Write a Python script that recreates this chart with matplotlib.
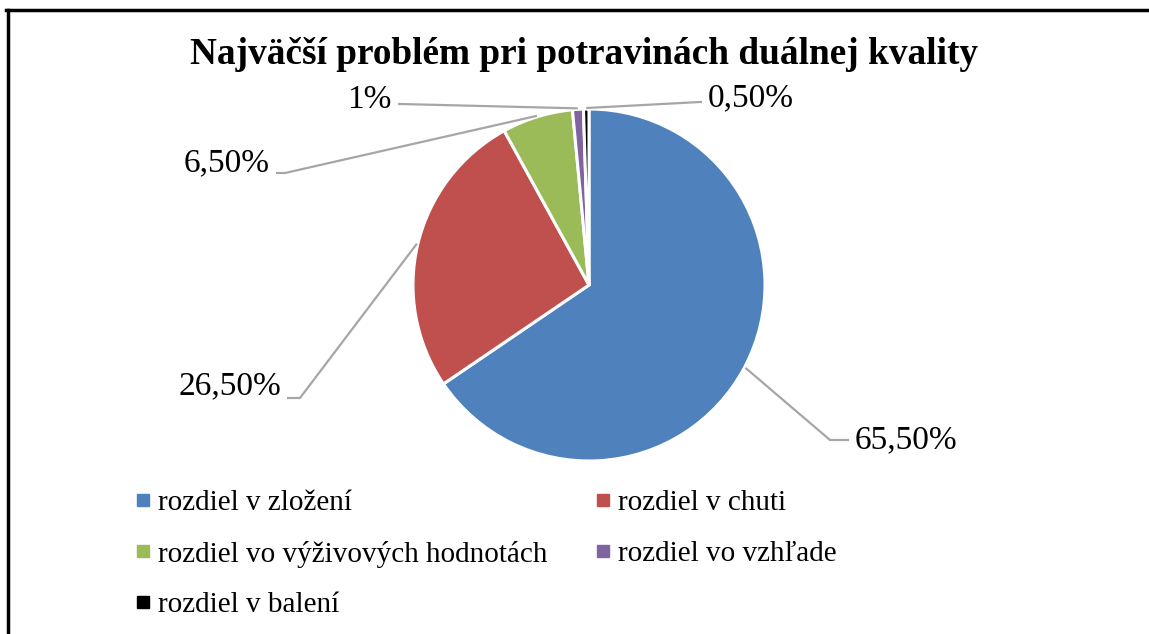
import matplotlib
matplotlib.use("Agg")
import numpy as np
import matplotlib.pyplot as plt
from matplotlib.lines import Line2D

categories = ['rozdiel v zložení', 'rozdiel v chuti', 'rozdiel vo výživových hodnotách',
              'rozdiel vo vzhľade', 'rozdiel v balení']
shares = [65.5, 26.5, 6.5, 1.0, 0.5]
value_labels = ['65,50%', '26,50%', '6,50%', '1%', '0,50%']
colors = ['#4F81BD', '#C0504D', '#9BBB59', '#8064A2', '#000000']

W, H = 1149, 634
# label anchor (pixel coords, y down), elbow point, text alignment
label_pos = [(855, 440), (281, 386), (270, 163), (392, 100), (708, 98)]
elbows = [(830, 440), (300, 398), (285, 173), (400, 104), (700, 102)]
label_ha = ['left', 'right', 'right', 'right', 'left']

plt.rcParams['font.family'] = ['Liberation Serif', 'DejaVu Serif']

fig = plt.figure(figsize=(W / 100, H / 100), dpi=100)
ax = fig.add_axes([0, 0, 1, 1])

cx, cy, r = 589, H - 285, 176
wedges, _ = ax.pie(shares, colors=colors, startangle=90, counterclock=False,
                   center=(cx, cy), radius=r, frame=True,
                   wedgeprops=dict(edgecolor='white', linewidth=2.2))
ax.set_xlim(0, W)
ax.set_ylim(0, H)
ax.axis('off')

for w, txt, (lx, ly), (ex, ey), ha in zip(wedges, value_labels, label_pos, elbows, label_ha):
    mid = np.deg2rad((w.theta1 + w.theta2) / 2)
    px, py = cx + (r + 1) * np.cos(mid), cy + (r + 1) * np.sin(mid)
    ax.plot([px, ex, lx + (-6 if ha == 'left' else 6)], [py, H - ey, H - ey],
            color='#A6A6A6', lw=1.6, solid_capstyle='butt')
    ax.text(lx, H - ly, txt, fontsize=24, ha=ha, va='center', color='black')

fig.text(584 / W, 1 - 55 / H, 'Najväčší problém pri potravinách duálnej kvality',
         ha='center', va='center', fontsize=26.8, fontweight='bold')

handles = [Line2D([], [], marker='s', ls='none', color=c, markersize=8) for c in colors]
order = [0, 2, 4, 1, 3]
ax.legend([handles[i] for i in order], [categories[i] for i in order],
          ncol=2, loc='upper left', bbox_to_anchor=(134 / W, 1 - 490 / H),
          frameon=False, fontsize=21, handlelength=0.6, handletextpad=0.22,
          columnspacing=1.6, labelspacing=0.83, borderpad=0, borderaxespad=0)

# outer frame (top and left edges visible)
fig.add_artist(Line2D([6 / W, 1], [1 - 10 / H, 1 - 10 / H], color='black', lw=2.5,
                      transform=fig.transFigure))
fig.add_artist(Line2D([8 / W, 8 / W], [0, 1 - 10 / H], color='black', lw=2.5,
                      transform=fig.transFigure))

fig.savefig('out.png', dpi=100)
